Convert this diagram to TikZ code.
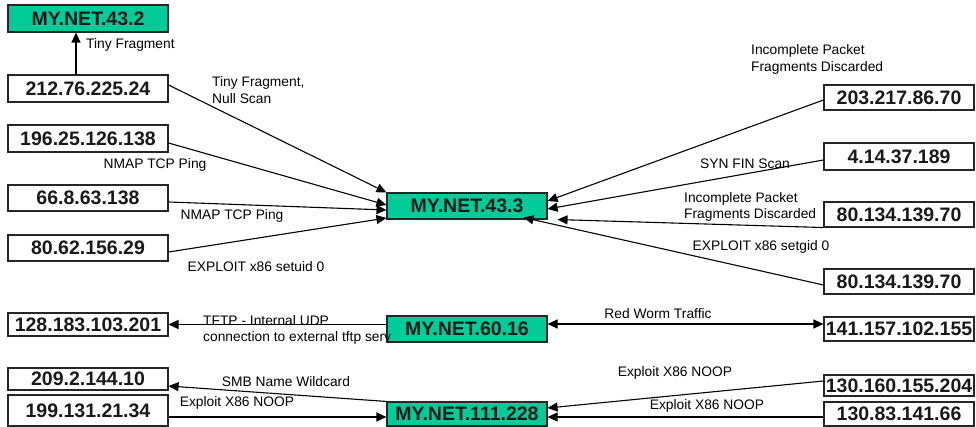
\documentclass[tikz,border=0pt]{standalone}
\usepackage{fontspec}
\setmainfont{Liberation Sans}
\usetikzlibrary{arrows.meta}
\definecolor{netgreen}{RGB}{0,204,153}
\begin{document}
\begin{tikzpicture}[x=1pt,y=-1pt,
  host/.style={draw=black!85, line width=1.1pt, inner sep=0pt, fill=white,
    font=\fontsize{19.5}{22}\selectfont\bfseries, text=black!90},
  mine/.style={host, fill=netgreen},
  lbl/.style={font=\fontsize{13.8}{16.5}\selectfont, inner sep=0pt, align=left},
  conn/.style={line width=1.1pt, -{Triangle[length=10pt,width=9pt]}},
  both/.style={line width=1.1pt, {Triangle[length=10pt,width=9pt]}-{Triangle[length=10pt,width=9pt]}}
]
\useasboundingbox (0,0) rectangle (976,427);

% left hosts
\node[mine, minimum width=160pt, minimum height=27pt] (n432) at (88,18.5) {MY.NET.43.2};
\node[host, minimum width=160pt, minimum height=27pt] (n212) at (88,88.5) {212.76.225.24};
\node[host, minimum width=160pt, minimum height=27pt] (n196) at (88,138.5) {196.25.126.138};
\node[host, minimum width=160pt, minimum height=26pt] (n668) at (88,198) {66.8.63.138};
\node[host, minimum width=160pt, minimum height=26pt] (n8062) at (88,248) {80.62.156.29};
\node[host, minimum width=160pt, minimum height=23pt] (n128) at (88,324.5) {128.183.103.201};
\node[host, minimum width=160pt, minimum height=22pt] (n209) at (88,379) {209.2.144.10};
\node[host, minimum width=160pt, minimum height=31pt] (n199) at (88,410.5) {199.131.21.34};

% centre hosts
\node[mine, minimum width=160pt, minimum height=26pt] (n433) at (467,206) {MY.NET.43.3};
\node[mine, minimum width=160pt, minimum height=26pt] (n6016) at (467,329) {MY.NET.60.16};
\node[mine, minimum width=160pt, minimum height=24pt] (n111) at (467,414) {MY.NET.111.228};

% right hosts
\node[host, minimum width=150pt, minimum height=25pt] (n203) at (899,97.5) {203.217.86.70};
\node[host, minimum width=150pt, minimum height=27pt] (n414) at (899,156.5) {4.14.37.189};
\node[host, minimum width=150pt, minimum height=25pt] (n80a) at (899,214.5) {80.134.139.70};
\node[host, minimum width=150pt, minimum height=25pt] (n80b) at (899,281.5) {80.134.139.70};
\node[host, minimum width=150pt, minimum height=24pt] (n141) at (899,329) {141.157.102.155};
\node[host, minimum width=150pt, minimum height=21pt] (n130a) at (899,385.5) {130.160.155.204};
\node[host, minimum width=150pt, minimum height=24pt] (n130b) at (899,414) {130.83.141.66};

% labels
\node[lbl, anchor=west] (l1) at (86,45) {Tiny Fragment};
\node[lbl, anchor=west] (l2) at (212,90) {Tiny Fragment,\\Null Scan};
\node[lbl] (l3) at (155,165) {NMAP TCP Ping};
\node[lbl] (l4) at (232,216) {NMAP TCP Ping};
\node[lbl] (l5) at (256,267) {EXPLOIT x86 setuid 0};
\node[lbl, anchor=west] (l6) at (751,59.5) {Incomplete Packet\\Fragments Discarded};
\node[lbl] (l7) at (745,164) {SYN FIN Scan};
\node[lbl, anchor=west] (l8) at (684,207) {Incomplete Packet\\Fragments Discarded};
\node[lbl] (l9) at (761,247) {EXPLOIT x86 setgid 0};
\node[lbl, anchor=west] (l10) at (203,330) {TFTP - Internal UDP\\connection to external tftp serv};
\node[lbl] (l11) at (658,314) {Red Worm Traffic};
\node[lbl] (l12) at (286,382) {SMB Name Wildcard};
\node[lbl] (l13) at (237,403) {Exploit X86 NOOP};
\node[lbl] (l14) at (675,373) {Exploit X86 NOOP};
\node[lbl] (l15) at (707,406) {Exploit X86 NOOP};

% connectors
\draw[conn] ([xshift=-12pt]n212.north) -- ([xshift=-12pt]n432.south);
\draw[conn] ([yshift=3.5pt]n212.east) -- (n433.north west);
\draw[conn] ([yshift=-4.5pt]n196.east) -- ([yshift=1pt]n433.west);
\draw[conn] ([yshift=-4pt]n668.east) -- ([yshift=-4pt]n433.west);
\draw[conn] ([yshift=-4pt]n8062.east) -- ([yshift=-12pt]n433.west);
\draw[conn] ([yshift=-2.5pt]n203.west) -- ([yshift=5pt]n433.east);
\draw[conn] ([yshift=-3.5pt]n414.west) -- ([yshift=-3pt]n433.east);
\draw[conn] (n80a.south west) -- ([xshift=10pt]n433.south east);
\draw[conn] ([yshift=-3.5pt]n80b.west) -- ([xshift=-24pt,yshift=2pt]n433.south east);
\draw[conn] ([yshift=4.5pt]n6016.west) -- (n128.east);
\draw[both] ([yshift=5pt]n6016.east) -- ([yshift=5pt]n141.west);
\draw[conn] (n111.north west) -- ([yshift=-7pt]n209.east);
\draw[conn] ([yshift=-6.5pt]n199.east) -- ([yshift=-3pt]n111.west);
\draw[conn] ([yshift=4.5pt]n130a.west) -- ([yshift=6pt]n111.east);
\draw[conn] ([yshift=-3pt]n130b.west) -- ([yshift=-3pt]n111.east);
\end{tikzpicture}
\end{document}
